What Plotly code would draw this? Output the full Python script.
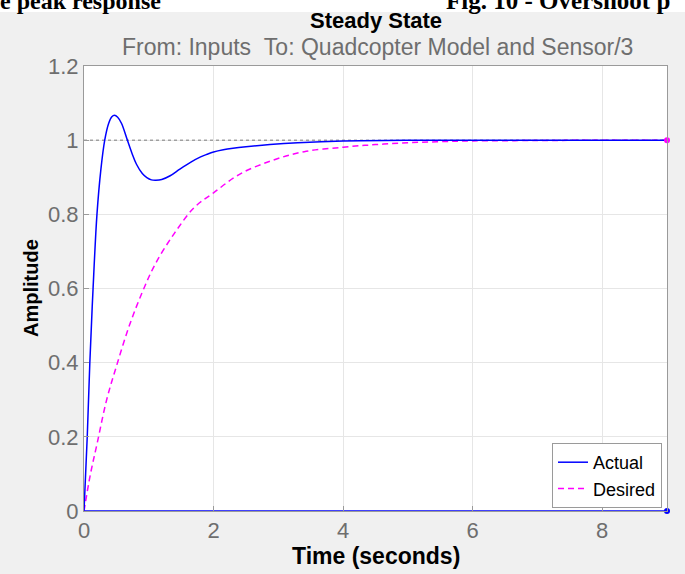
import plotly.graph_objects as go

# ---- data ----
actual_t = [0, 0.05, 0.09, 0.14, 0.2, 0.26, 0.32, 0.38, 0.43, 0.47, 0.52, 0.58, 0.66, 0.74,
            0.81, 0.9, 0.97, 1.04, 1.11, 1.2, 1.33, 1.48, 1.65, 1.8, 1.9, 2.0, 2.15, 2.3,
            2.5, 2.87, 3.3, 4.0, 5.0, 6.0, 7.0, 8.0, 9.0]
actual_y = [0, 0.2, 0.4, 0.6, 0.8, 0.92, 1.0, 1.045, 1.063, 1.067, 1.062, 1.045, 1.005, 0.965,
            0.935, 0.910, 0.899, 0.893, 0.892, 0.894, 0.904, 0.922, 0.941, 0.955, 0.962,
            0.968, 0.974, 0.978, 0.982, 0.988, 0.993, 0.998, 1.0, 1.0, 1.0, 1.0, 1.0]

desired_t = [0, 0.1, 0.2, 0.35, 0.5, 0.7, 0.9, 1.1, 1.4, 1.7, 2.0, 2.4, 2.9, 3.4, 4.0,
             4.5, 5.0, 5.5, 6.0, 7.0, 8.0, 9.0]
desired_y = [0, 0.1, 0.18, 0.30, 0.39, 0.50, 0.59, 0.666, 0.75, 0.818, 0.858, 0.908,
             0.945, 0.969, 0.981, 0.988, 0.993, 0.996, 0.998, 0.999, 1.0, 1.0]

zero_t = [0, 9]
zero_y = [0, 0]
steady_t = [0, 9]
steady_y = [1, 1]
end_t = [9]
end_actual_y = [0]
end_desired_y = [1]

x_ticks = [0, 2, 4, 6, 8]
y_ticks = [0, 0.2, 0.4, 0.6, 0.8, 1.0, 1.2]
y_tick_labels = ["0", "0.2", "0.4", "0.6", "0.8", "1", "1.2"]

title_text = "Steady State"
subtitle_text = "From: Inputs\u00a0\u00a0To: Quadcopter Model and Sensor/3"
x_title = "Time (seconds)"
y_title = "Amplitude"
doc_left_text = "e peak response"
doc_right_text = "Fig. 10 - Overshoot p"

# ---- figure ----
W, H = 685, 574
L, R, T, B = 84, 18, 66, 63
pw, ph = W - L - R, H - T - B


def px(X):
    return (X - L) / pw


def py(Y):
    return (H - B - Y) / ph


fig = go.Figure()
fig.add_trace(go.Scatter(x=steady_t, y=steady_y, mode="lines",
                         line=dict(color="#7a7a7a", width=1, dash="dot"),
                         showlegend=False, hoverinfo="skip"))
fig.add_trace(go.Scatter(x=zero_t, y=zero_y, mode="lines",
                         line=dict(color="#0000ff", width=1.5),
                         showlegend=False, hoverinfo="skip"))
fig.add_trace(go.Scatter(x=desired_t, y=desired_y, mode="lines", name="Desired",
                         line=dict(color="#ff00ff", width=1.5, dash="6px,4px", shape="spline")))
fig.add_trace(go.Scatter(x=actual_t, y=actual_y, mode="lines", name="Actual",
                         line=dict(color="#0000ff", width=1.5, shape="spline")))
fig.add_trace(go.Scatter(x=end_t, y=end_actual_y, mode="markers",
                         marker=dict(color="#0000ff", size=6), showlegend=False,
                         cliponaxis=False))
fig.add_trace(go.Scatter(x=end_t, y=end_desired_y, mode="markers",
                         marker=dict(color="#ff00ff", size=6), showlegend=False,
                         cliponaxis=False))

font_main = "Liberation Sans, Arial, sans-serif"
font_doc = "Liberation Serif, Times New Roman, serif"

annotations = [
    dict(text="<b>" + title_text + "</b>", x=px(376), y=py(21), xref="paper", yref="paper",
         showarrow=False, font=dict(family=font_main, size=22, color="#000000"),
         xanchor="center", yanchor="middle"),
    dict(text=subtitle_text, x=px(377), y=py(47), xref="paper", yref="paper",
         showarrow=False, font=dict(family=font_main, size=23, color="#6e6e6e"),
         xanchor="center", yanchor="middle"),
    dict(text="<b>" + x_title + "</b>", x=px(376), y=py(556), xref="paper", yref="paper",
         showarrow=False, font=dict(family=font_main, size=23, color="#000000"),
         xanchor="center", yanchor="middle"),
    dict(text="<b>" + y_title + "</b>", x=px(31), y=py(288), xref="paper", yref="paper",
         showarrow=False, textangle=-90, font=dict(family=font_main, size=20, color="#000000"),
         xanchor="center", yanchor="middle"),
    dict(text="<b>" + doc_left_text + "</b>", x=px(-2), y=py(16), xref="paper", yref="paper",
         showarrow=False, font=dict(family=font_doc, size=24, color="#000000"),
         xanchor="left", yanchor="bottom"),
    dict(text="<b>" + doc_right_text + "</b>", x=px(444), y=py(16), xref="paper", yref="paper",
         showarrow=False, font=dict(family=font_doc, size=25, color="#000000"),
         xanchor="left", yanchor="bottom"),
]

shapes = [
    dict(type="rect", xref="paper", yref="paper", x0=px(-5), x1=px(W + 5), y0=py(12), y1=py(-5),
         fillcolor="#ffffff", line=dict(width=0), layer="below"),
]

fig.update_layout(
    width=W, height=H,
    margin=dict(l=L, r=R, t=T, b=B),
    paper_bgcolor="#f0f0f0",
    plot_bgcolor="#ffffff",
    showlegend=True,
    legend=dict(x=px(662), y=py(508), xanchor="right", yanchor="bottom",
                bgcolor="#ffffff", bordercolor="#9a9a9a", borderwidth=1,
                font=dict(family=font_main, size=18, color="#000000"),
                traceorder="reversed", itemwidth=30, tracegroupgap=0),
    annotations=annotations,
    shapes=shapes,
    xaxis=dict(range=[0, 9], tickvals=x_ticks, showgrid=True, gridcolor="#e6e6e6",
               zeroline=False, showline=True, linecolor="#9a9a9a", mirror=True,
               ticks="inside", ticklen=5, tickcolor="#9a9a9a",
               tickfont=dict(family=font_main, size=22, color="#6e6e6e")),
    yaxis=dict(range=[0, 1.2], tickvals=y_ticks, ticktext=y_tick_labels, showgrid=True,
               gridcolor="#e6e6e6", zeroline=False, showline=True, linecolor="#9a9a9a",
               mirror=True, ticks="inside", ticklen=5, tickcolor="#9a9a9a",
               tickfont=dict(family=font_main, size=22, color="#6e6e6e")),
)

fig.write_html("out.html", config={"displayModeBar": False},
               post_script="document.body.style.margin='0';"
                           "document.body.style.background='#f0f0f0';")
